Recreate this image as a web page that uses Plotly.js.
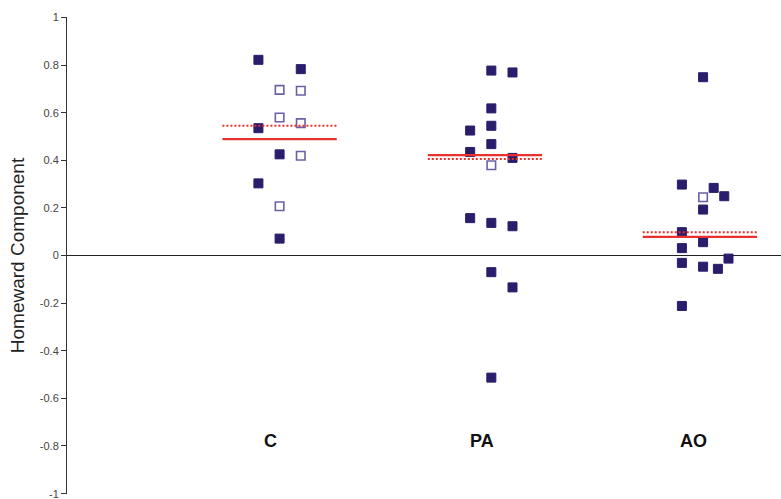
<!DOCTYPE html>
<html>
<head>
<meta charset="utf-8">
<script src="https://cdn.plot.ly/plotly-3.0.1.min.js"></script>
<style>
  html, body { margin: 0; padding: 0; background: #fff; }
  #chart { width: 781px; height: 499px; }
</style>
</head>
<body>
<div id="chart"></div>
<script>
// Groups along the horizontal axis
const groups = ['C', 'PA', 'AO'];

// Homeward component per individual; *Col gives the jitter column within a group
const cFilled    = [0.822, 0.783, 0.535, 0.425, 0.303, 0.071];
const cFilledCol = [-1, 1, -1, 0, -1, 0];
const cOpen      = [0.696, 0.692, 0.580, 0.556, 0.419, 0.207];
const cOpenCol   = [0, 1, 0, 1, 1, 0];

const paFilled    = [0.777, 0.769, 0.618, 0.545, 0.525, 0.468, 0.435, 0.410, 0.157, 0.137, 0.123, -0.070, -0.134, -0.513];
const paFilledCol = [0, 1, 0, 0, -1, 0, -1, 1, -1, 0, 1, 0, 1, 0];
const paOpen      = [0.379];
const paOpenCol   = [0];

const aoFilled    = [0.749, 0.298, 0.284, 0.249, 0.193, 0.098, 0.056, 0.031, -0.013, -0.031, -0.047, -0.056, -0.212];
const aoFilledCol = [0, -1, 0.5, 1, 0, -1, 0, -1, 1.2, -1, 0, 0.7, -1];
const aoOpen      = [0.245];
const aoOpenCol   = [0];

// Group summary levels (solid and dotted bars)
const solidLevel  = [0.489, 0.422, 0.078];
const dottedLevel = [0.545, 0.405, 0.098];

// Y tick labels
const yTickVals = [-1, -0.8, -0.6, -0.4, -0.2, 0, 0.2, 0.4, 0.6, 0.8, 1];
const yTickText = ['-1', '-0.8', '-0.6', '-0.4', '-0.2', '0', '0.2', '0.4', '0.6', '0.8', '1'];

// ---- drawing ----
const colStep = 0.1;       // spacing of jitter columns
const barHalf = 0.27;      // half length of summary bars
const barShift = [0, -0.03, -0.015];
const filledColor = '#2b1d6b';
const openColor = '#6b60a8';
const red = '#e8302c';
const tickFont = { family: 'Liberation Sans, Arial, sans-serif', size: 11, color: '#444' };

const filledSets = [[cFilled, cFilledCol], [paFilled, paFilledCol], [aoFilled, aoFilledCol]];
const openSets = [[cOpen, cOpenCol], [paOpen, paOpenCol], [aoOpen, aoOpenCol]];

const traces = [];
filledSets.forEach(([vals, cols], g) => {
  traces.push({
    type: 'scatter', mode: 'markers', name: groups[g] + ' filled',
    x: cols.map(c => g + 1 + c * colStep), y: vals,
    marker: { symbol: 'square', size: 9, color: filledColor, line: { color: filledColor, width: 1 } },
    hoverinfo: 'y'
  });
});
openSets.forEach(([vals, cols], g) => {
  traces.push({
    type: 'scatter', mode: 'markers', name: groups[g] + ' open',
    x: cols.map(c => g + 1 + c * colStep), y: vals,
    marker: { symbol: 'square', size: 8.5, color: '#ffffff', line: { color: openColor, width: 1.6 } },
    hoverinfo: 'y'
  });
});
groups.forEach((name, g) => {
  const c = g + 1 + barShift[g];
  traces.push({
    type: 'scatter', mode: 'lines', x: [c - barHalf, c + barHalf], y: [dottedLevel[g], dottedLevel[g]],
    line: { color: red, width: 2, dash: '2px,2px' }, hoverinfo: 'skip'
  });
  traces.push({
    type: 'scatter', mode: 'lines', x: [c - barHalf, c + barHalf], y: [solidLevel[g], solidLevel[g]],
    line: { color: red, width: 2.2 }, hoverinfo: 'skip'
  });
});

const annotations = groups.map((name, g) => ({
  x: g + 1 - 0.045, y: -0.778, xref: 'x', yref: 'y',
  text: name, showarrow: false,
  font: { family: 'Liberation Sans, Arial, sans-serif', size: 18, color: '#111', weight: 'bold' }
}));

// The bottom tick label sits on the figure edge, where the axis would drop it,
// so it is placed as an annotation next to its tick.
const edgeIdx = yTickVals.indexOf(-1);
annotations.push({
  x: 0, xref: 'paper', y: yTickVals[edgeIdx], yref: 'y',
  text: yTickText[edgeIdx], showarrow: false,
  xanchor: 'right', yanchor: 'middle', xshift: -6,
  font: tickFont
});
const shownTickText = yTickText.map((t, i) => (i === edgeIdx ? '' : t));

const layout = {
  width: 781, height: 499,
  margin: { l: 67, r: 0, t: 17, b: 5 },
  paper_bgcolor: '#fff', plot_bgcolor: '#fff',
  showlegend: false,
  xaxis: { range: [-0.004, 3.368], visible: false, fixedrange: true },
  yaxis: {
    range: [-1.002, 1.002], tickvals: yTickVals, ticktext: shownTickText,
    showgrid: false, zeroline: true, zerolinecolor: '#222', zerolinewidth: 1.2,
    showline: true, linecolor: '#333', linewidth: 1,
    ticks: 'outside', ticklen: 5, tickcolor: '#333', tickwidth: 1,
    tickfont: tickFont,
    title: { text: 'Homeward Component', standoff: 10,
             font: { family: 'Liberation Sans, Arial, sans-serif', size: 19, color: '#222' } },
    automargin: false, fixedrange: true
  },
  annotations: annotations
};

Plotly.newPlot('chart', traces, layout, { displayModeBar: false, staticPlot: true });
</script>
</body>
</html>
